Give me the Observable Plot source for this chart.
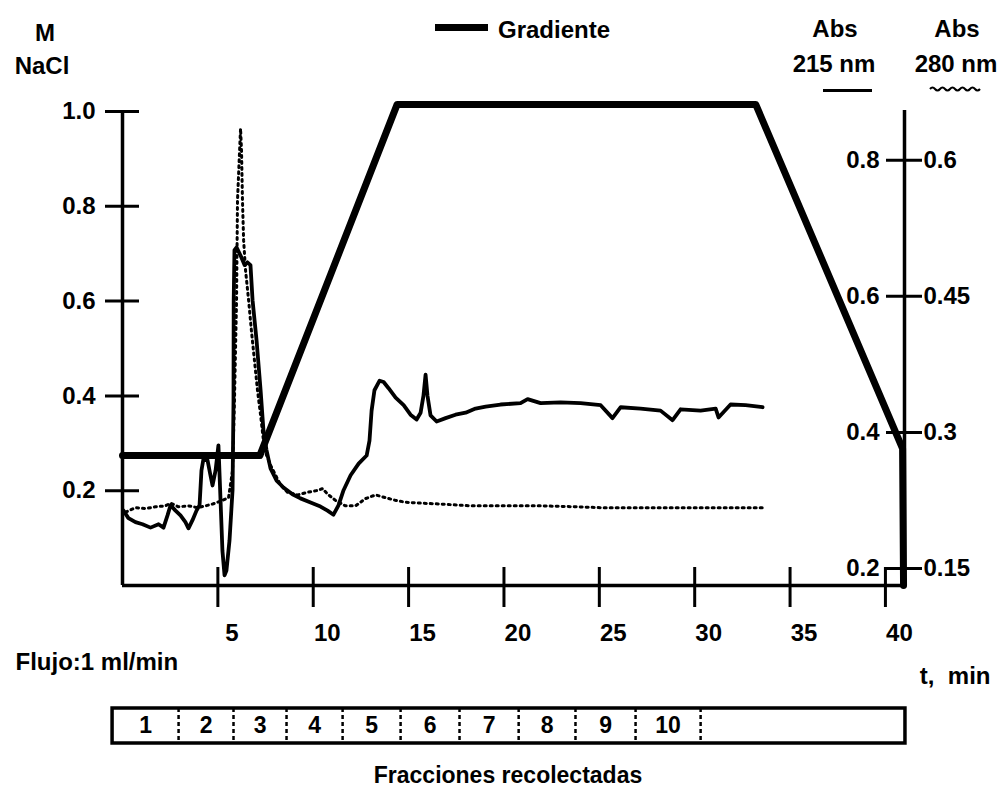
<!DOCTYPE html>
<html>
<head>
<meta charset="utf-8">
<script src="https://cdn.jsdelivr.net/npm/d3@7"></script>
<script src="https://cdn.jsdelivr.net/npm/@observablehq/plot@0.6"></script>
<style>
  body { margin: 0; background: #fff; font-family: "Liberation Sans", Arial, sans-serif; font-weight: bold; color: #000; }
  #fig { width: 1006px; height: 788px; overflow: hidden; }
  #header { position: relative; width: 1006px; height: 96px; }
  .t { position: absolute; font-size: 24px; line-height: 24px; white-space: nowrap; font-weight: bold; }
  .c { transform: translateX(-50%); }
  #caption { width: 1006px; height: 38px; box-sizing: border-box; padding-top: 12px; line-height: 26px; font-size: 23px; }
  #caption span { position: relative; left: 508px; display: inline-block; transform: translateX(-50%); white-space: nowrap; }
  svg { display: block; }
</style>
</head>
<body>
<div id="fig">
  <div id="header">
    <div class="t c" style="left:45px; top:21px;">M</div>
    <div class="t c" style="left:42px; top:54px;">NaCl</div>
    <div style="position:absolute; left:435px; top:24px; width:53px; height:7px; background:#000;"></div>
    <div class="t" style="left:498px; top:18px;">Gradiente</div>
    <div class="t c" style="left:835px; top:17px;">Abs</div>
    <div class="t c" style="left:834px; top:52px;">215 nm</div>
    <div style="position:absolute; left:823px; top:89px; width:49px; height:3px; background:#000;"></div>
    <div class="t c" style="left:957px; top:17px;">Abs</div>
    <div class="t c" style="left:956px; top:52px;">280 nm</div>
    <svg style="position:absolute; left:929px; top:85px;" width="52" height="8">
      <path d="M1,4 q2.5,-3 5,0 t5,0 t5,0 t5,0 t5,0 t5,0 t5,0 t5,0 t5,0 t5,0" fill="none" stroke="#000" stroke-width="2"/>
    </svg>
  </div>
  <div id="main"></div>
  <div id="strip"></div>
  <div id="caption"><span>Fracciones recolectadas</span></div>
</div>
<script>
// ---------- data ----------
// NaCl gradient program: [time (min), M NaCl]
const gradientProgram = [[0, 0.274], [7.2, 0.274], [14.4, 1.015], [33.2, 1.015], [40.9, 0.289], [40.95, 0]];

// Absorbance at 215 nm: [time (min), Abs]
const abs215Trace = [
  [0.05,0.285],[0.31,0.274],[0.68,0.268],[1.05,0.265],[1.47,0.260],[1.89,0.265],[2.15,0.260],[2.36,0.278],
  [2.52,0.293],[2.78,0.285],[3.04,0.278],[3.30,0.268],[3.46,0.259],[3.67,0.271],[3.88,0.285],[4.04,0.293],
  [4.14,0.344],[4.25,0.362],[4.46,0.359],[4.61,0.337],[4.72,0.322],[4.88,0.344],[5.03,0.381],[5.14,0.300],
  [5.24,0.226],[5.35,0.190],[5.45,0.197],[5.61,0.241],[5.77,0.315],[5.82,0.447],[5.83,0.594],[5.87,0.668],
  [5.98,0.672],[6.19,0.660],[6.40,0.646],[6.55,0.650],[6.71,0.646],[6.82,0.594],[7.03,0.535],[7.24,0.462],
  [7.39,0.403],[7.55,0.374],[7.76,0.347],[8.08,0.329],[8.44,0.319],[8.91,0.309],[9.33,0.303],[9.86,0.297],
  [10.38,0.291],[10.75,0.285],[11.06,0.279],[11.33,0.293],[11.59,0.315],[11.96,0.337],[12.38,0.354],[12.80,0.366],
  [12.95,0.388],[13.06,0.432],[13.21,0.462],[13.48,0.476],[13.69,0.474],[13.95,0.465],[14.32,0.451],[14.74,0.440],
  [15.10,0.426],[15.42,0.419],[15.63,0.429],[15.78,0.454],[15.89,0.485],[15.99,0.454],[16.15,0.425],[16.47,0.416],
  [16.94,0.421],[17.46,0.426],[17.99,0.429],[18.51,0.435],[19.04,0.438],[19.82,0.441],[20.87,0.443],[21.24,0.449],
  [21.92,0.443],[22.97,0.444],[24.02,0.443],[25.07,0.440],[25.69,0.421],[26.12,0.437],[27.16,0.435],[28.21,0.432],
  [28.84,0.418],[29.26,0.434],[30.31,0.432],[31.10,0.435],[31.25,0.422],[31.88,0.441],[32.67,0.440],[33.56,0.437]
];

// Absorbance at 280 nm: [time (min), Abs]
const abs280Trace = [
  [0.16,0.212],[0.68,0.217],[1.21,0.216],[1.73,0.218],[2.25,0.219],[2.52,0.222],[2.94,0.218],[3.46,0.219],
  [3.93,0.217],[4.35,0.219],[4.72,0.221],[5.24,0.225],[5.56,0.228],[5.77,0.258],[5.87,0.335],[5.98,0.446],
  [6.03,0.556],[6.14,0.611],[6.19,0.635],[6.24,0.611],[6.29,0.556],[6.35,0.512],[6.45,0.479],[6.61,0.446],
  [6.76,0.412],[6.92,0.379],[7.08,0.346],[7.24,0.319],[7.39,0.291],[7.55,0.275],[7.76,0.264],[8.02,0.253],
  [8.29,0.242],[8.65,0.234],[9.18,0.231],[9.70,0.234],[10.23,0.236],[10.49,0.238],[10.75,0.232],[11.17,0.225],
  [11.69,0.219],[12.22,0.219],[12.74,0.227],[13.27,0.231],[13.79,0.228],[14.32,0.225],[14.84,0.223],[15.63,0.222],
  [16.68,0.221],[18.25,0.219],[19.82,0.219],[21.92,0.219],[23.75,0.218],[25.07,0.217],[27.69,0.217],[30.31,0.217],
  [33.72,0.217]
];

const naclTicks = [0.2, 0.4, 0.6, 0.8, 1.0];
const timeTicks = [5, 10, 15, 20, 25, 30, 35, 40];
const abs215Ticks = [0.2, 0.4, 0.6, 0.8];
const abs280Ticks = [0.15, 0.3, 0.45, 0.6];

// collected fractions: boundaries (min) and labels
const fractionBounds = [-0.52, 2.94, 5.82, 8.6, 11.54, 14.58, 17.67, 20.77, 23.75, 26.9, 30.31, 41.05];
const fractionLabels = ["1", "2", "3", "4", "5", "6", "7", "8", "9", "10", ""];

// ---------- axis alignment (secondary axes mapped onto the NaCl scale) ----------
const tMax = 41;
const s215 = d3.scaleLinear().domain([0.2, 0.8]).range([0.036, 0.897]);
const s280 = d3.scaleLinear().domain([0.15, 0.6]).range([0.036, 0.897]);

const W = 1006, mL = 122, mR = 102;
const font = {fontSize: 24, fontWeight: "bold"};

const main = Plot.plot({
  width: W, height: 604,
  marginLeft: mL, marginRight: mR, marginTop: 15, marginBottom: 115,
  x: {domain: [0, tMax], axis: null},
  y: {domain: [0, 1], axis: null},
  style: {fontFamily: "Liberation Sans, Arial, sans-serif", fontWeight: "bold", background: "white", overflow: "visible"},
  marks: [
    // axes lines
    Plot.ruleX([0], {y1: 0, y2: 1, strokeWidth: 3.5}),
    Plot.ruleX([tMax], {y1: 0, y2: 1.002, strokeWidth: 3.5}),
    Plot.ruleY([0], {strokeWidth: 3.5}),
    // left NaCl ticks
    Plot.ruleY(naclTicks, {y: d => d, x1: 0, x2: 0, insetLeft: -17, insetRight: -17, strokeWidth: 3}),
    Plot.text(naclTicks, {y: d => d, frameAnchor: "left", dx: -27, textAnchor: "end", text: d => d.toFixed(1), ...font}),
    // time ticks
    Plot.ruleX(timeTicks, {x: d => d, y1: 0, y2: 0, insetTop: -18, insetBottom: -22, strokeWidth: 3}),
    Plot.text(timeTicks, {x: d => d, frameAnchor: "bottom", dx: 14, dy: 55, lineAnchor: "bottom", text: d => String(d), ...font}),
    // right absorbance ticks
    Plot.ruleY(abs215Ticks, {y: d => s215(d), x1: tMax, x2: tMax, insetLeft: -18, insetRight: -18, strokeWidth: 3}),
    Plot.text(abs215Ticks, {y: d => s215(d), frameAnchor: "right", dx: -25, textAnchor: "end", text: d => String(d), ...font}),
    Plot.text(abs280Ticks, {y: d => s280(d), frameAnchor: "right", dx: 19, textAnchor: "start", text: d => String(d), ...font}),
    // axis notes
    Plot.text(["Flujo:1 ml/min"], {frameAnchor: "bottom-left", dx: -107, dy: 84, textAnchor: "start", lineAnchor: "bottom", text: d => d, ...font}),
    Plot.text(["t,  min"], {frameAnchor: "bottom-right", dx: 86, dy: 98, textAnchor: "end", lineAnchor: "bottom", text: d => d, ...font}),
    // traces
    Plot.line(abs280Trace, {x: d => d[0], y: d => s280(d[1]), stroke: "black", strokeWidth: 3, strokeDasharray: "2,4", strokeLinecap: "round"}),
    Plot.line(abs215Trace, {x: d => d[0], y: d => s215(d[1]), stroke: "black", strokeWidth: 3.8, strokeLinejoin: "round"}),
    Plot.line(gradientProgram, {x: d => d[0], y: d => d[1], stroke: "black", strokeWidth: 7, strokeLinejoin: "round"})
  ]
});
document.getElementById("main").appendChild(main);

const fractions = fractionLabels.map((label, i) => ({label, start: fractionBounds[i], end: fractionBounds[i + 1]}));

const strip = Plot.plot({
  width: W, height: 50,
  marginLeft: mL, marginRight: mR, marginTop: 8, marginBottom: 7,
  x: {domain: [0, tMax], axis: null},
  style: {fontFamily: "Liberation Sans, Arial, sans-serif", fontWeight: "bold", background: "white", overflow: "visible"},
  marks: [
    Plot.rect([{start: fractionBounds[0], end: fractionBounds[fractionBounds.length - 1]}], {x1: "start", x2: "end", fill: "none", stroke: "black", strokeWidth: 3.5}),
    Plot.ruleX(fractionBounds.slice(1, -1), {x: d => d, strokeWidth: 2.5, strokeDasharray: "4,3"}),
    Plot.text(fractions, {x: d => (d.start + d.end) / 2, frameAnchor: "middle", text: "label", fontSize: 23, fontWeight: "bold"})
  ]
});
document.getElementById("strip").appendChild(strip);
</script>
</body>
</html>
